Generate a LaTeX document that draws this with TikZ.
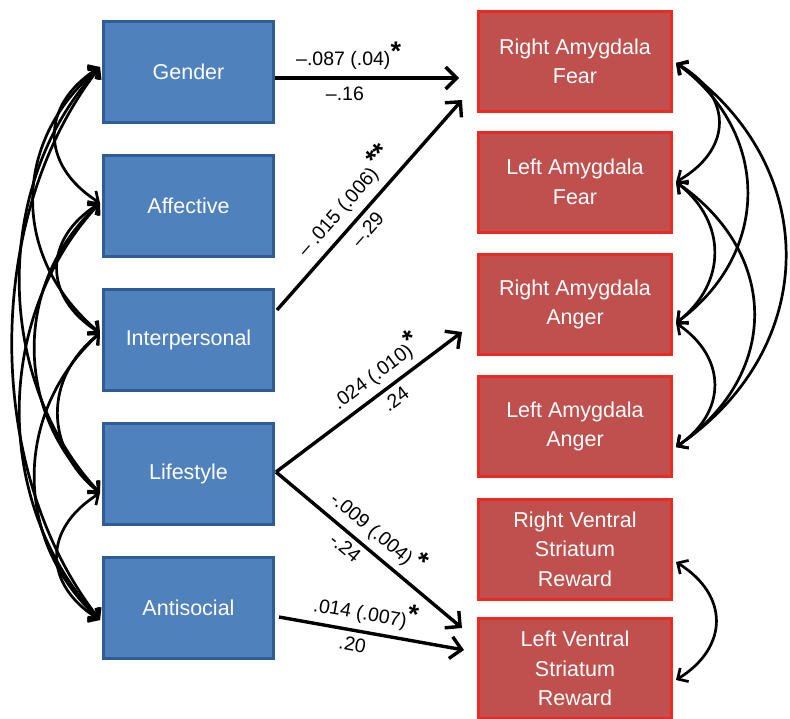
\documentclass[tikz,border=0pt]{standalone}
\usepackage{fontspec}
\setmainfont{Liberation Sans}
\usetikzlibrary{arrows.meta}
\definecolor{bfill}{HTML}{4F81BD}
\definecolor{bline}{HTML}{2E5C94}
\definecolor{rfill}{HTML}{C0504D}
\definecolor{rline}{HTML}{EC2A24}
\newcommand{\sig}[1]{\smash{\raisebox{5pt}{\fontsize{27}{27}\selectfont\bfseries #1}}}
\begin{document}
\begin{tikzpicture}[x=1pt,y=-1pt,
  bbox/.style={draw=bline, fill=bfill, line width=3pt, minimum width=170pt, minimum height=101pt, text=white, align=center, font=\fontsize{21.5}{30}\selectfont},
  rbox/.style={draw=rline, fill=rfill, line width=3pt, minimum width=193pt, minimum height=100pt, text=white, align=center, font=\fontsize{21.5}{29.5}\selectfont},
  main/.style={line width=3.4pt, -{Straight Barb[length=11pt,width=22pt]}},
  cov/.style={line width=2.7pt, {Straight Barb[length=8pt,width=16pt]}-{Straight Barb[length=8pt,width=16pt]}},
  lab/.style={font=\fontsize{19.5}{21}\selectfont, inner sep=2pt}]
\useasboundingbox (0,0) rectangle (790,718);
% blue boxes
\node[bbox] (g) at (188.5,72) {Gender};
\node[bbox] (af) at (188.5,206) {Affective};
\node[bbox] (ip) at (188.5,340) {Interpersonal};
\node[bbox] (ls) at (188.5,474) {Lifestyle};
\node[bbox] (as) at (188.5,608) {Antisocial};
% red boxes
\node[rbox] (raf) at (575,61.5) {Right Amygdala\\Fear};
\node[rbox] (laf) at (575,182) {Left Amygdala\\Fear};
\node[rbox] (raa) at (575,304.5) {Right Amygdala\\Anger};
\node[rbox] (laa) at (575,426.5) {Left Amygdala\\Anger};
\node[rbox] (rvs) at (575,549) {Right Ventral\\Striatum\\Reward};
\node[rbox] (lvs) at (575,668.5) {Left Ventral\\Striatum\\Reward};
% tip points
\coordinate (gL) at ([shift={(-2,-5)}]g.west);
\coordinate (afL) at ([shift={(-2,-3)}]af.west);
\coordinate (ipL) at ([shift={(-2,-7)}]ip.west);
\coordinate (lsL) at ([shift={(-2,19)}]ls.west);
\coordinate (asL) at ([shift={(-2,12)}]as.west);
\coordinate (rafR) at ([shift={(3,1.5)}]raf.east);
\coordinate (lafR) at ([shift={(3,0)}]laf.east);
\coordinate (raaR) at ([shift={(3,18.5)}]raa.east);
\coordinate (laaR) at ([shift={(3,20.5)}]laa.east);
\coordinate (rvsR) at ([shift={(3,13)}]rvs.east);
\coordinate (lvsR) at ([shift={(3,11.5)}]lvs.east);
% main paths
\draw[main] ([shift={(0,6)}]g.east) -- node[lab, above=5pt, pos=0.4]{–.087 (.04)\sig{*}} node[lab, below=5pt, pos=0.38]{–.16} ([shift={(-18,16.5)}]raf.west);
\draw[main] ([shift={(2,-30)}]ip.east) -- node[lab, above=5pt, sloped, pos=0.45]{– .015 (.006)\,\sig{**}} node[lab, below=4pt, sloped, pos=0.43]{–.29} ([shift={(-15,38.5)}]raf.west);
\draw[main] ([shift={(1,-2)}]ls.east) -- node[lab, above=4pt, sloped, pos=0.6]{.024 (.010)\sig{*}} node[lab, below=3pt, sloped, pos=0.6]{.24} ([shift={(-15,27.5)}]raa.west);
\draw[main] ([shift={(1,-2)}]ls.east) -- node[lab, above=4pt, sloped, pos=0.48]{-.009 (.004)\,\sig{*}} node[lab, below=3pt, sloped, pos=0.42]{-.24} ([shift={(-15,-40.5)}]lvs.west);
\draw[main] ([shift={(4,9)}]as.east) -- node[lab, above=4pt, sloped, pos=0.45]{.014 (.007)\sig{*}} node[lab, below=3pt, sloped, pos=0.41]{.20} ([shift={(-13,-18.5)}]lvs.west);
% left covariances
\draw[cov] (gL) .. controls +(-60,38) and +(-60,-38) .. (afL);
\draw[cov] (afL) .. controls +(-57,36) and +(-57,-36) .. (ipL);
\draw[cov] (ipL) .. controls +(-56,45) and +(-56,-45) .. (lsL);
\draw[cov] (lsL) .. controls +(-57,36) and +(-57,-36) .. (asL);
\draw[cov] (gL) .. controls +(-89,75) and +(-89,-75) .. (ipL);
\draw[cov] (afL) .. controls +(-87,80) and +(-87,-80) .. (lsL);
\draw[cov] (ipL) .. controls +(-87,80) and +(-87,-80) .. (asL);
\draw[cov] (gL) .. controls +(-107,115) and +(-107,-115) .. (lsL);
\draw[cov] (afL) .. controls +(-107,115) and +(-107,-115) .. (asL);
\draw[cov] (gL) .. controls +(-117,150) and +(-117,-150) .. (asL);
% right covariances
\draw[cov] (rafR) .. controls +(57,33) and +(57,-33) .. (lafR);
\draw[cov] (lafR) .. controls +(51,40) and +(51,-40) .. (raaR);
\draw[cov] (raaR) .. controls +(51,35) and +(51,-35) .. (laaR);
\draw[cov] (rafR) .. controls +(95,70) and +(95,-70) .. (raaR);
\draw[cov] (lafR) .. controls +(104,72) and +(104,-72) .. (laaR);
\draw[cov] (rafR) .. controls +(146,100) and +(146,-100) .. (laaR);
\draw[cov] (rvsR) .. controls +(53,33) and +(53,-33) .. (lvsR);
\end{tikzpicture}
\end{document}
